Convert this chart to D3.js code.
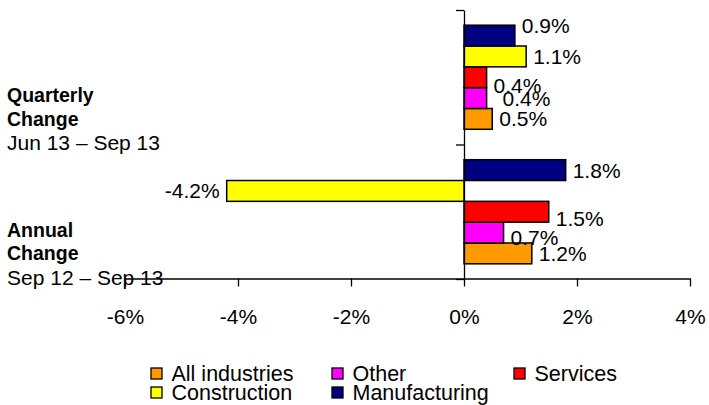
<!DOCTYPE html>
<html>
<head>
<meta charset="utf-8">
<script src="https://cdn.jsdelivr.net/npm/d3@7"></script>
<style>
  html, body { margin: 0; padding: 0; background: #fff; }
  svg { display: block; font-family: "Liberation Sans", Arial, sans-serif; }
</style>
</head>
<body>
<svg id="chart" width="709" height="405"></svg>
<script>
// Employment change by industry, quarterly and annual (%)
const categories = ["Quarterly", "Annual"];
const categoryTitles = [["Quarterly", "Change"], ["Annual", "Change"]];
const periods = ["Jun 13 \u2013 Sep 13", "Sep 12 \u2013 Sep 13"];
const seriesNames = ["All industries", "Other", "Services", "Construction", "Manufacturing"];
const allIndustries = [0.5, 1.2];
const other = [0.4, 0.7];
const services = [0.4, 1.5];
const construction = [1.1, -4.2];
const manufacturing = [0.9, 1.8];
const tickValues = [-6, -4, -2, 0, 2, 4];

const seriesValues = [allIndustries, other, services, construction, manufacturing];
const colors = ["#FF9900", "#FF00FF", "#FF0000", "#FFFF00", "#000080"];

const svg = d3.select("#chart");

const x = d3.scaleLinear().domain([-6, 4]).range([125, 690]);
const y = d3.scaleBand().domain(categories).range([10, 279]).paddingInner(0).paddingOuter(0);
// Bars are stacked top-to-bottom in reverse series order
const inner = d3.scaleBand()
  .domain(seriesNames.slice().reverse())
  .range([0, y.bandwidth()])
  .paddingInner(0)
  .paddingOuter(0.73);

// Hand-placed nudges for labels that would collide
const labelNudge = {
  "Manufacturing|Quarterly": [0, -10],
  "Services|Quarterly": [0, 8],
  "Other|Quarterly": [9, 0],
  "Services|Annual": [0, 7],
  "Other|Annual": [0, 5]
};

const pct = v => v.toFixed(1) + "%";

const rows = [];
seriesNames.forEach((name, si) => {
  categories.forEach((cat, ci) => {
    rows.push({ name, cat, value: seriesValues[si][ci], color: colors[si] });
  });
});

// Bars
svg.append("g").selectAll("rect").data(rows).join("rect")
  .attr("x", d => x(Math.min(0, d.value)))
  .attr("y", d => y(d.cat) + inner(d.name))
  .attr("width", d => Math.abs(x(d.value) - x(0)))
  .attr("height", inner.bandwidth())
  .attr("fill", d => d.color)
  .attr("stroke", "#000")
  .attr("stroke-width", 1.5);

// Value labels
svg.append("g").selectAll("text").data(rows).join("text")
  .attr("x", d => {
    const n = labelNudge[d.name + "|" + d.cat] || [0, 0];
    return x(d.value) + (d.value < 0 ? -7 : 7) + n[0];
  })
  .attr("y", d => {
    const n = labelNudge[d.name + "|" + d.cat] || [0, 0];
    return y(d.cat) + inner(d.name) + inner.bandwidth() / 2 + n[1];
  })
  .attr("dy", "0.36em")
  .attr("text-anchor", d => d.value < 0 ? "end" : "start")
  .attr("font-size", 21)
  .attr("fill", "#000")
  .text(d => pct(d.value));

// Value axis
const xAxis = d3.axisBottom(x)
  .tickValues(tickValues)
  .tickFormat(d => d + "%")
  .tickSize(8)
  .tickSizeOuter(0)
  .tickPadding(23);
const gx = svg.append("g").attr("transform", "translate(0,278.5)").call(xAxis);
gx.select(".domain").attr("stroke", "#000").attr("stroke-width", 1.3);
gx.selectAll(".tick line").attr("stroke", "#000").attr("stroke-width", 1.3);
gx.selectAll(".tick text").attr("font-size", 21).attr("font-family", "Liberation Sans, Arial, sans-serif").attr("fill", "#000");

// Category axis at zero, with ticks at the group boundaries
const yb = d3.scaleLinear().domain([0, categories.length]).range([y.range()[0], y.range()[1]]);
const yAxis = d3.axisLeft(yb)
  .tickValues(d3.range(categories.length + 1))
  .tickFormat("")
  .tickSize(8)
  .tickSizeOuter(0);
const gy = svg.append("g").attr("transform", `translate(${x(0)},0)`).call(yAxis);
gy.select(".domain").attr("stroke", "#000").attr("stroke-width", 1.3);
gy.selectAll(".tick line").attr("stroke", "#000").attr("stroke-width", 1.3);

// Category labels
const catLabels = svg.append("g");
categories.forEach((cat, ci) => {
  const bottom = y(cat) + y.bandwidth();
  const g = catLabels.append("text").attr("x", 7).attr("fill", "#000");
  categoryTitles[ci].forEach((line, li) => {
    g.append("tspan")
      .attr("x", 7)
      .attr("y", bottom - 42.5 + li * 23.7)
      .attr("font-weight", "bold")
      .attr("font-size", 19.5)
      .text(line);
  });
  g.append("tspan")
    .attr("x", 7)
    .attr("y", bottom + 5.5)
    .attr("font-size", 21)
    .text(periods[ci]);
});

// Legend
const legendCols = [151, 332, 514];
const legendRows = [368, 387];
const legend = svg.append("g");
seriesNames.forEach((name, i) => {
  const lx = legendCols[i % 3];
  const ly = legendRows[Math.floor(i / 3)];
  legend.append("rect")
    .attr("x", lx).attr("y", ly)
    .attr("width", 11).attr("height", 11)
    .attr("fill", colors[i])
    .attr("stroke", "#000")
    .attr("stroke-width", 1.3);
  legend.append("text")
    .attr("x", lx + 20.5)
    .attr("y", ly + 12.5)
    .attr("font-size", 21.5)
    .attr("fill", "#000")
    .text(name);
});
</script>
</body>
</html>
